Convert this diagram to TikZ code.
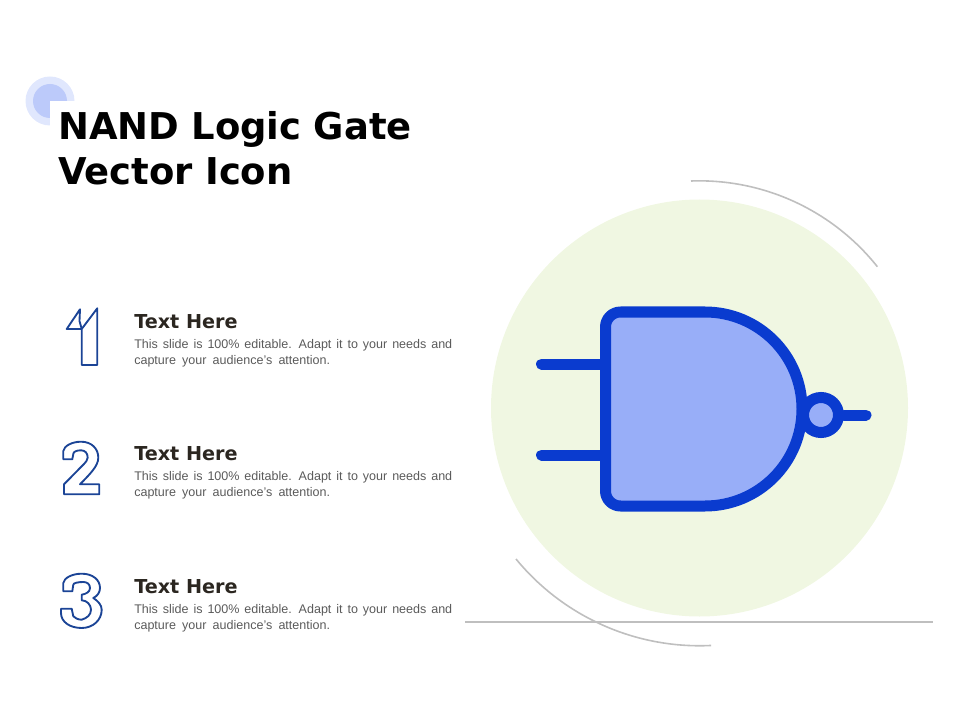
\documentclass[tikz,border=0pt]{standalone}
\usepackage{fontspec}
\setmainfont{Liberation Sans}
\newfontfamily\headfont{DejaVu Sans}
\definecolor{discgreen}{HTML}{F0F7E2}
\definecolor{ringgrey}{HTML}{BFBFBF}
\definecolor{gateblue}{HTML}{0A3BCF}
\definecolor{gatefill}{HTML}{98AEF8}
\definecolor{digitblue}{HTML}{1B4496}
\definecolor{headdark}{HTML}{2B2620}
\definecolor{bodygrey}{HTML}{5A5A5A}
\tikzset{
	wire/.style={line width=8.25pt, color=gateblue, line cap=round},
	ring/.style={line width=1.2pt, color=ringgrey},
	digit/.style={line width=1.4pt, color=digitblue, line join=round},
	headtext/.style={anchor=base west, inner sep=0pt, text=headdark, font=\headfont\bfseries\fontsize{14.4}{18}\selectfont},
	bodytext/.style={anchor=north west, inner sep=0pt, text width=238.5pt, align=justify, text=bodygrey, font=\fontsize{9.4}{12}\selectfont}
}
\begin{document}
\begin{tikzpicture}[x=0.75pt, y=-0.75pt]
	\useasboundingbox (0,0) rectangle (960,720);
	% Spot behind the title
	\fill [color=gatefill!30] (50,101) circle (24.5);
	\fill [color=gatefill!65] (50,101) circle (17);
	\node (title) [anchor=north west, fill=white, inner xsep=6pt, inner ysep=0pt, text width=290pt, align=left,
		font=\headfont\bfseries\fontsize{27.7}{33.75}\selectfont, text height=28.5pt, text depth=40pt] at (50,101)
		{NAND Logic Gate\\Vector Icon};
	% Disc and rings
	\fill [color=discgreen] (699.5,408) circle (208.5);
	\draw [ring] (691,181) arc (-92.1:-38.5:227.5);
	\draw [ring] (516,559) arc (140.6:87.2:237.5);
	\coordinate (baseL) at (465,622);
	\coordinate (baseR) at (933,622);
	\draw [ring] (baseL) -- (baseR);
	% Text rows
	\foreach \n/\y in {1/328, 2/460, 3/593} {
		\node (head\n) [headtext] at (134,\y) {Text Here};
		\node (body\n) [bodytext] at (134,\y+11.5) {\spaceskip=4.6pt plus 3pt minus 3pt This slide is 100\% editable. Adapt it to your needs and\linebreak capture your audience's attention.};
	}
	% Digits
	\draw [digit] (97.3,308.3) -- (97.3,365) -- (81.7,365) -- (81.7,329) -- (66.7,329) -- (80,309.3) -- (79.5,321) -- (81.7,329) -- cycle;
	\draw [digit] (63.3,459.3) -- (63.3,451) .. controls (64,446) and (72,441.7) .. (81,441.7)
		.. controls (92,441.7) and (98.3,449) .. (98.3,457.7)
		.. controls (98.3,466) and (90,474) .. (80,484.3) -- (99.3,484.3) -- (99.3,494.3) -- (64,494.3) -- (64,484.3)
		-- (82,466) .. controls (86,462) and (87.7,460) .. (87.7,457.7)
		.. controls (87.7,453) and (85,450.3) .. (81,450.3)
		.. controls (76,450.3) and (73.3,452) .. (73.3,454) -- (72.3,459.3) -- cycle;
	\draw [digit] (63.3,591.3) -- (63.3,583) .. controls (64,578) and (72,573.7) .. (81.7,573.7)
		.. controls (93,573.7) and (100,580) .. (100,588)
		.. controls (100,593) and (97,596) .. (93.3,598)
		.. controls (98,601) and (101.7,605) .. (101.7,609.7)
		.. controls (101.7,620) and (93,628) .. (81.7,628)
		.. controls (70,628) and (61,622) .. (61,613) -- (61,608.7) -- (71.7,608.7) -- (73.3,616.3)
		.. controls (75,618) and (78,619.7) .. (81.7,619.7)
		.. controls (87,618) and (91,615) .. (91,609.7)
		.. controls (91,605) and (87,600.3) .. (81.7,600.3) -- (81.7,594.7)
		.. controls (86,594) and (90,592) .. (90,588)
		.. controls (90,584) and (87,582) .. (83.3,582)
		.. controls (78,582) and (73.3,583) .. (73.3,584.7) -- (72.3,591.3) -- cycle;
	% Gate
	\coordinate (inA) at (541.5,364);
	\coordinate (inB) at (541.5,455);
	\coordinate (inAend) at (605.5,364);
	\coordinate (inBend) at (605.5,455);
	\coordinate (out) at (866,415);
	\draw [wire] (inA) -- (inAend);
	\draw [wire] (inB) -- (inBend);
	\draw [line width=8.25pt, color=gateblue, fill=gatefill, line join=round]
		(605.5,327) arc (180:270:15) -- (705,312) arc (-90:90:97) -- (620.5,506) arc (90:180:15) -- cycle;
	\node (bubble) [circle, draw=gateblue, fill=gatefill, line width=8.25pt, minimum size=26.25pt, inner sep=0pt] at (821,415) {};
	\draw [wire] (bubble.east) -- (out);
\end{tikzpicture}
\end{document}
